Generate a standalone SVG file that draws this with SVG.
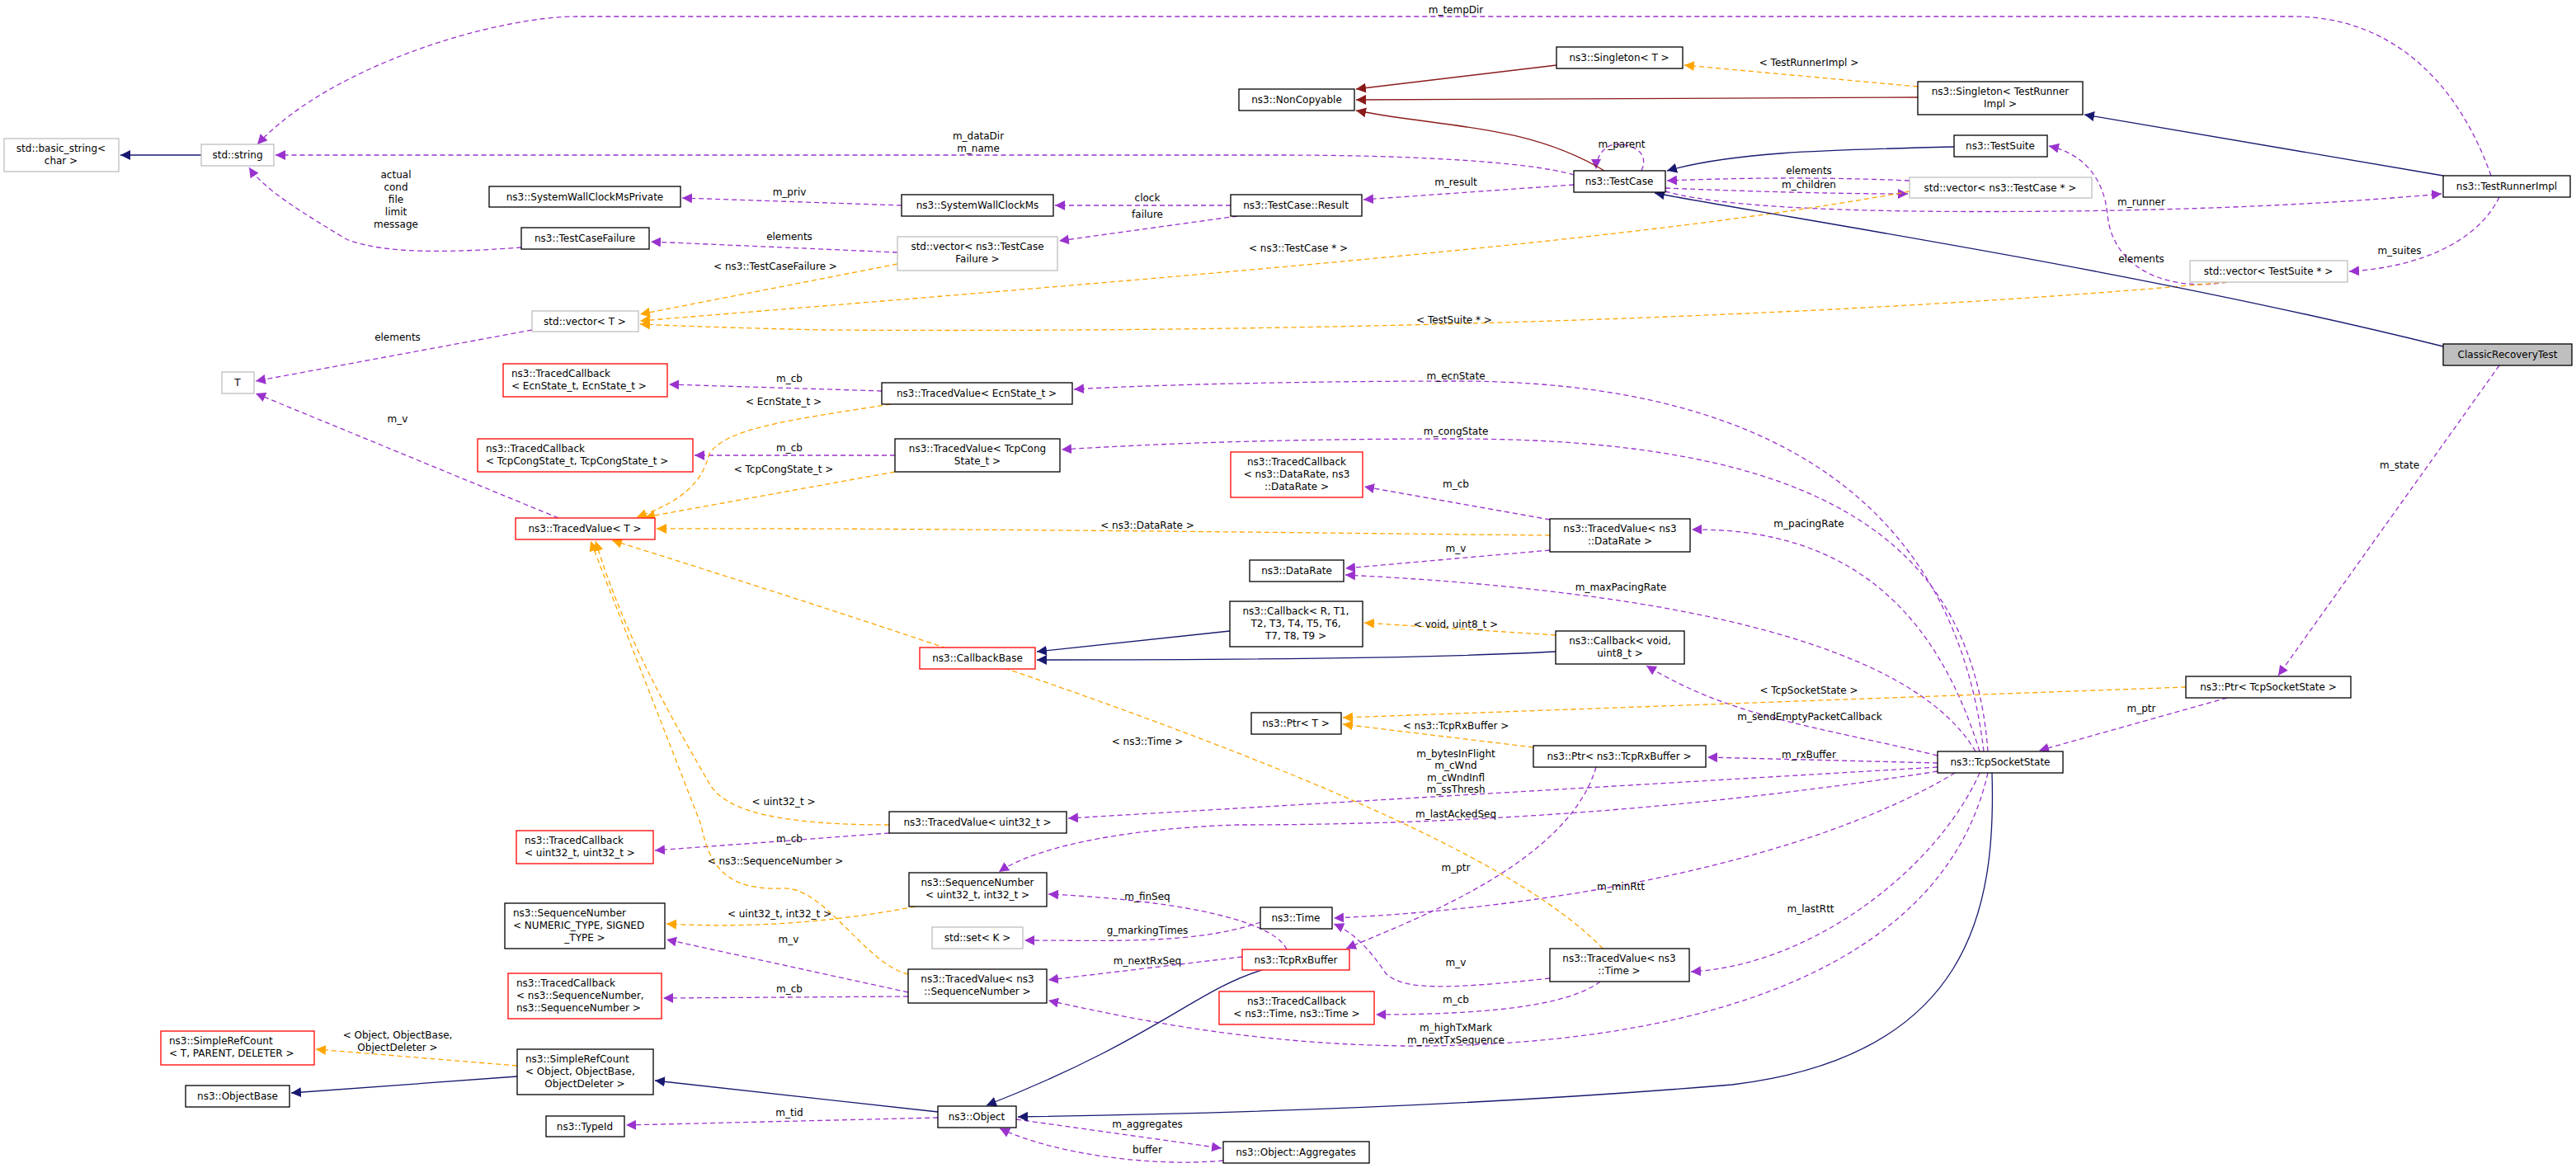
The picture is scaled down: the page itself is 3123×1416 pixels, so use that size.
<svg xmlns="http://www.w3.org/2000/svg" width="3123" height="1416" viewBox="0 0 3123 1416">
<style>
text{font-family:"DejaVu Sans","Liberation Sans",sans-serif;font-size:12px;fill:#000}
.n rect{fill:#fff;stroke:#000;stroke-width:1.3}
.g rect{fill:#fff;stroke:#bfbfbf;stroke-width:1.3}
.r rect{fill:#fff;stroke:#ff0000;stroke-width:1.3}
.c text{text-anchor:middle}
.l text{text-anchor:start}
.e path{fill:none;stroke-width:1.3}
.u{stroke:#9a32cd;stroke-dasharray:6,4;marker-end:url(#mu)}
.t{stroke:#ffa500;stroke-dasharray:6,4;marker-end:url(#mt)}
.i{stroke:#191970;marker-end:url(#mi)}
.p{stroke:#8b1a1a;marker-end:url(#mp)}
.lb text{text-anchor:middle}
</style>
<defs>
<marker id="mu" viewBox="0 0 10 10" refX="10" refY="5" markerWidth="12" markerHeight="12" markerUnits="userSpaceOnUse" orient="auto"><path d="M0,0L10,5L0,10z" fill="#9a32cd"/></marker>
<marker id="mt" viewBox="0 0 10 10" refX="10" refY="5" markerWidth="12" markerHeight="12" markerUnits="userSpaceOnUse" orient="auto"><path d="M0,0L10,5L0,10z" fill="#ffa500"/></marker>
<marker id="mi" viewBox="0 0 10 10" refX="10" refY="5" markerWidth="12" markerHeight="12" markerUnits="userSpaceOnUse" orient="auto"><path d="M0,0L10,5L0,10z" fill="#191970"/></marker>
<marker id="mp" viewBox="0 0 10 10" refX="10" refY="5" markerWidth="12" markerHeight="12" markerUnits="userSpaceOnUse" orient="auto"><path d="M0,0L10,5L0,10z" fill="#8b1a1a"/></marker>
</defs>
<rect width="3123" height="1416" fill="#fff"/>
<g id="edges" class="e">
<path class="u" d="M3020,213 C2980,100 2900,20 2780,20 L700,20 C600,20 400,80 312,175"/>
<path class="u" d="M1908,212 C1850,195 1700,188 1550,188 L334,188"/>
<path class="u" d="M632,300 C560,305 470,310 420,290 C370,260 320,230 302,203"/>
<path class="u" d="M1093,249 L827,240"/>
<path class="u" d="M1088,306 L789,293"/>
<path class="u" d="M645,400 L310,462"/>
<path class="u" d="M677,628 L310,477"/>
<path class="u" d="M1069,474 L811,466"/>
<path class="u" d="M1085,552 L842,552"/>
<path class="u" d="M1078,1010 L794,1031"/>
<path class="u" d="M1101,1203 L808,1139"/>
<path class="u" d="M1101,1208 L804,1210"/>
<path class="u" d="M1137,1355 L759,1364"/>
<path class="u" d="M1492,249 L1279,249"/>
<path class="u" d="M1500,262 L1284,292"/>
<path class="u" d="M1908,224 L1653,242"/>
<path class="u" d="M1990,207 C2000,185 1980,175 1960,175 C1945,175 1935,190 1935,205"/>
<path class="u" d="M2315,219 C2200,214 2100,216 2021,219"/>
<path class="u" d="M2019,228 C2120,232 2220,235 2313,235"/>
<path class="u" d="M2019,232 C2100,255 2300,258 2500,256 C2700,254 2850,245 2960,235"/>
<path class="u" d="M2700,342 C2620,355 2560,320 2555,260 C2550,210 2520,185 2484,177"/>
<path class="u" d="M3030,239 C3000,300 2920,325 2848,329"/>
<path class="u" d="M3030,443 L2762,819"/>
<path class="u" d="M2700,846 L2472,910"/>
<path class="u" d="M2405,911 C2380,700 2250,462 1765,462 C1600,462 1400,466 1302,472"/>
<path class="u" d="M2410,911 C2390,650 2200,532 1765,532 C1550,532 1400,538 1287,545"/>
<path class="u" d="M2400,911 C2350,750 2250,640 2051,642"/>
<path class="u" d="M2395,911 C2330,800 2100,720 1631,697"/>
<path class="u" d="M2349,916 C2200,880 2100,870 1996,807"/>
<path class="u" d="M2349,925 L2070,918"/>
<path class="u" d="M2349,930 L1295,992"/>
<path class="u" d="M2349,935 C2000,990 1700,1000 1500,1000 C1350,1005 1250,1030 1211,1057"/>
<path class="u" d="M2370,937 C2200,1040 1900,1100 1617,1113"/>
<path class="u" d="M2400,937 C2350,1050 2200,1170 2050,1178"/>
<path class="u" d="M2410,937 C2350,1200 2000,1270 1700,1268 C1500,1265 1350,1230 1271,1213"/>
<path class="u" d="M1935,930 C1900,1050 1700,1120 1632,1150"/>
<path class="u" d="M1560,1151 C1540,1110 1400,1090 1271,1084"/>
<path class="u" d="M1528,1118 C1450,1145 1350,1140 1242,1140"/>
<path class="u" d="M1506,1160 L1271,1188"/>
<path class="u" d="M1879,1186 C1750,1200 1700,1200 1680,1180 C1660,1150 1640,1130 1617,1120"/>
<path class="u" d="M1940,1190 C1900,1220 1800,1230 1668,1230"/>
<path class="u" d="M1879,630 L1654,590"/>
<path class="u" d="M1879,667 L1631,689"/>
<path class="u" d="M1232,1357 L1481,1392"/>
<path class="u" d="M1483,1407 C1400,1415 1280,1400 1212,1368"/>
<path class="t" d="M2325,105 L2042,79"/>
<path class="t" d="M1088,320 L776,381"/>
<path class="t" d="M2315,232 C2000,290 1500,330 776,389"/>
<path class="t" d="M2700,342 C2400,370 1800,405 1000,400 C900,398 820,395 776,393"/>
<path class="t" d="M1080,490 C950,510 880,520 860,550 C850,590 820,610 772,627"/>
<path class="t" d="M1085,572 L782,627"/>
<path class="t" d="M1879,649 C1500,645 1100,640 796,641"/>
<path class="t" d="M1943,1150 C1800,1000 1300,830 742,655"/>
<path class="t" d="M1078,1000 C950,1000 880,985 860,950 C820,880 760,780 722,656"/>
<path class="t" d="M1101,1181 C1050,1170 1000,1075 950,1077 C880,1080 860,1050 850,1000 L716,656"/>
<path class="t" d="M1110,1099 C1000,1120 900,1125 808,1120"/>
<path class="t" d="M1886,770 L1654,755"/>
<path class="t" d="M1859,906 L1628,878"/>
<path class="t" d="M2650,833 L1628,870"/>
<path class="t" d="M627,1292 L383,1272"/>
<path class="i" d="M244,188 L146,188"/>
<path class="i" d="M2962,213 L2527,139"/>
<path class="i" d="M2369,178 C2200,182 2100,185 2021,207"/>
<path class="i" d="M2962,420 C2600,330 2200,270 2006,234"/>
<path class="i" d="M1491,765 L1257,790"/>
<path class="i" d="M1886,790 C1700,800 1400,800 1257,800"/>
<path class="i" d="M627,1305 L353,1325"/>
<path class="i" d="M1137,1348 L794,1310"/>
<path class="i" d="M1530,1176 C1450,1200 1400,1260 1196,1340"/>
<path class="i" d="M2415,937 C2420,1100 2390,1280 2100,1315 C1800,1340 1500,1350 1234,1354"/>
<path class="p" d="M1887,79 L1644,108"/>
<path class="p" d="M2325,118 L1644,121"/>
<path class="p" d="M1945,207 C1850,150 1750,155 1644,134"/>
</g>
<g id="labels" class="lb">
<text x="1765" y="16">m_tempDir</text>
<text x="1186" y="169">m_dataDir</text><text x="1186" y="184">m_name</text>
<text x="480" y="216">actual</text><text x="480" y="231">cond</text><text x="480" y="246">file</text><text x="480" y="261">limit</text><text x="480" y="276">message</text>
<text x="957" y="237">m_priv</text>
<text x="957" y="291">elements</text>
<text x="940" y="327">&lt; ns3::TestCaseFailure &gt;</text>
<text x="482" y="413">elements</text>
<text x="957" y="463">m_cb</text>
<text x="482" y="512">m_v</text>
<text x="950" y="491">&lt; EcnState_t &gt;</text>
<text x="957" y="547">m_cb</text>
<text x="950" y="573">&lt; TcpCongState_t &gt;</text>
<text x="950" y="976">&lt; uint32_t &gt;</text>
<text x="957" y="1021">m_cb</text>
<text x="940" y="1048">&lt; ns3::SequenceNumber &gt;</text>
<text x="945" y="1112">&lt; uint32_t, int32_t &gt;</text>
<text x="956" y="1143">m_v</text>
<text x="957" y="1203">m_cb</text>
<text x="482" y="1259">&lt; Object, ObjectBase,</text><text x="482" y="1274">ObjectDeleter &gt;</text>
<text x="957" y="1353">m_tid</text>
<text x="1966" y="179">m_parent</text>
<text x="1765" y="225">m_result</text>
<text x="1391" y="244">clock</text>
<text x="1391" y="264">failure</text>
<text x="1574" y="305">&lt; ns3::TestCase * &gt;</text>
<text x="1763" y="392">&lt; TestSuite * &gt;</text>
<text x="1765" y="460">m_ecnState</text>
<text x="1765" y="527">m_congState</text>
<text x="1765" y="591">m_cb</text>
<text x="1391" y="641">&lt; ns3::DataRate &gt;</text>
<text x="1765" y="669">m_v</text>
<text x="1965" y="716">m_maxPacingRate</text>
<text x="1765" y="761">&lt; void, uint8_t &gt;</text>
<text x="1765" y="884">&lt; ns3::TcpRxBuffer &gt;</text>
<text x="1391" y="903">&lt; ns3::Time &gt;</text>
<text x="1765" y="918">m_bytesInFlight</text><text x="1765" y="932">m_cWnd</text><text x="1765" y="947">m_cWndInfl</text><text x="1765" y="961">m_ssThresh</text>
<text x="1765" y="991">m_lastAckedSeq</text>
<text x="1391" y="1091">m_finSeq</text>
<text x="1765" y="1056">m_ptr</text>
<text x="1965" y="1079">m_minRtt</text>
<text x="1391" y="1132">g_markingTimes</text>
<text x="1391" y="1169">m_nextRxSeq</text>
<text x="1765" y="1171">m_v</text>
<text x="1765" y="1216">m_cb</text>
<text x="2195" y="1106">m_lastRtt</text>
<text x="1765" y="1250">m_highTxMark</text><text x="1765" y="1265">m_nextTxSequence</text>
<text x="1391" y="1367">m_aggregates</text>
<text x="1391" y="1398">buffer</text>
<text x="2193" y="80">&lt; TestRunnerImpl &gt;</text>
<text x="2193" y="211">elements</text>
<text x="2193" y="228">m_children</text>
<text x="2596" y="249">m_runner</text>
<text x="2596" y="318">elements</text>
<text x="2909" y="308">m_suites</text>
<text x="2909" y="568">m_state</text>
<text x="2193" y="639">m_pacingRate</text>
<text x="2193" y="841">&lt; TcpSocketState &gt;</text>
<text x="2194" y="873">m_sendEmptyPacketCallback</text>
<text x="2596" y="863">m_ptr</text>
<text x="2193" y="919">m_rxBuffer</text>
</g>
<g id="basic_string" class="g c"><rect x="5" y="168" width="139" height="40"/><text x="74" y="184">std::basic_string&lt;</text><text x="74" y="199">char &gt;</text></g>
<g id="std_string" class="g c"><rect x="244" y="175" width="88" height="26"/><text x="288" y="192">std::string</text></g>
<g id="SystemWallClockMsPrivate" class="n c"><rect x="593" y="226" width="232" height="25"/><text x="709" y="243">ns3::SystemWallClockMsPrivate</text></g>
<g id="TestCaseFailure" class="n c"><rect x="632" y="276" width="155" height="26"/><text x="709" y="293">ns3::TestCaseFailure</text></g>
<g id="vector_T" class="g c"><rect x="645" y="377" width="129" height="25"/><text x="709" y="394">std::vector&lt; T &gt;</text></g>
<g id="T" class="g c"><rect x="269" y="451" width="39" height="26"/><text x="288" y="468">T</text></g>
<g id="TC_Ecn" class="r l"><rect x="610" y="441" width="199" height="40"/><text x="620" y="457">ns3::TracedCallback</text><text x="620" y="472">&lt; EcnState_t, EcnState_t &gt;</text></g>
<g id="TC_Cong" class="r l"><rect x="579" y="532" width="261" height="40"/><text x="589" y="548">ns3::TracedCallback</text><text x="589" y="563">&lt; TcpCongState_t, TcpCongState_t &gt;</text></g>
<g id="TracedValue_T" class="r c"><rect x="625" y="628" width="169" height="26"/><text x="709" y="645">ns3::TracedValue&lt; T &gt;</text></g>
<g id="TC_u32" class="r l"><rect x="626" y="1007" width="166" height="40"/><text x="636" y="1023">ns3::TracedCallback</text><text x="636" y="1038">&lt; uint32_t, uint32_t &gt;</text></g>
<g id="SeqNum_T" class="n l"><rect x="612" y="1095" width="194" height="55"/><text x="622" y="1111">ns3::SequenceNumber</text><text x="622" y="1126">&lt; NUMERIC_TYPE, SIGNED</text><text x="709" y="1141" style="text-anchor:middle">_TYPE &gt;</text></g>
<g id="TC_Seq" class="r l"><rect x="616" y="1180" width="186" height="55"/><text x="626" y="1196">ns3::TracedCallback</text><text x="626" y="1211">&lt; ns3::SequenceNumber,</text><text x="626" y="1226">ns3::SequenceNumber &gt;</text></g>
<g id="SRC_T" class="r l"><rect x="195" y="1250" width="186" height="41"/><text x="205" y="1266">ns3::SimpleRefCount</text><text x="205" y="1281">&lt; T, PARENT, DELETER &gt;</text></g>
<g id="SRC_Object" class="n l"><rect x="627" y="1272" width="165" height="55"/><text x="637" y="1288">ns3::SimpleRefCount</text><text x="637" y="1303">&lt; Object, ObjectBase,</text><text x="709" y="1318" style="text-anchor:middle">ObjectDeleter &gt;</text></g>
<g id="ObjectBase" class="n c"><rect x="225" y="1316" width="126" height="26"/><text x="288" y="1333">ns3::ObjectBase</text></g>
<g id="TypeId" class="n c"><rect x="662" y="1353" width="95" height="25"/><text x="709" y="1370">ns3::TypeId</text></g>
<g id="Singleton_T" class="n c"><rect x="1887" y="57" width="153" height="26"/><text x="1963" y="74">ns3::Singleton&lt; T &gt;</text></g>
<g id="NonCopyable" class="n c"><rect x="1502" y="108" width="140" height="26"/><text x="1572" y="125">ns3::NonCopyable</text></g>
<g id="TestCase" class="n c"><rect x="1908" y="207" width="111" height="26"/><text x="1963" y="224">ns3::TestCase</text></g>
<g id="SystemWallClockMs" class="n c"><rect x="1093" y="236" width="184" height="26"/><text x="1185" y="253">ns3::SystemWallClockMs</text></g>
<g id="TestCaseResult" class="n c"><rect x="1492" y="236" width="159" height="26"/><text x="1571" y="253">ns3::TestCase::Result</text></g>
<g id="vector_TCF" class="g c"><rect x="1088" y="287" width="194" height="41"/><text x="1185" y="303">std::vector&lt; ns3::TestCase</text><text x="1185" y="318">Failure &gt;</text></g>
<g id="TV_Ecn" class="n c"><rect x="1069" y="464" width="231" height="26"/><text x="1184" y="481">ns3::TracedValue&lt; EcnState_t &gt;</text></g>
<g id="TV_Cong" class="n c"><rect x="1085" y="532" width="200" height="40"/><text x="1185" y="548">ns3::TracedValue&lt; TcpCong</text><text x="1185" y="563">State_t &gt;</text></g>
<g id="TC_DataRate" class="r c"><rect x="1492" y="548" width="160" height="55"/><text x="1572" y="564">ns3::TracedCallback</text><text x="1572" y="579">&lt; ns3::DataRate, ns3</text><text x="1572" y="594">::DataRate &gt;</text></g>
<g id="TV_DataRate" class="n c"><rect x="1879" y="629" width="170" height="40"/><text x="1964" y="645">ns3::TracedValue&lt; ns3</text><text x="1964" y="660">::DataRate &gt;</text></g>
<g id="DataRate" class="n c"><rect x="1515" y="679" width="114" height="26"/><text x="1572" y="696">ns3::DataRate</text></g>
<g id="Callback_R" class="n c"><rect x="1491" y="729" width="161" height="55"/><text x="1571" y="745">ns3::Callback&lt; R, T1,</text><text x="1571" y="760">T2, T3, T4, T5, T6,</text><text x="1571" y="775">T7, T8, T9 &gt;</text></g>
<g id="Callback_void" class="n c"><rect x="1886" y="765" width="156" height="40"/><text x="1964" y="781">ns3::Callback&lt; void,</text><text x="1964" y="796">uint8_t &gt;</text></g>
<g id="CallbackBase" class="r c"><rect x="1115" y="785" width="140" height="26"/><text x="1185" y="802">ns3::CallbackBase</text></g>
<g id="Ptr_T" class="n c"><rect x="1517" y="864" width="109" height="26"/><text x="1571" y="881">ns3::Ptr&lt; T &gt;</text></g>
<g id="Ptr_RxBuf" class="n c"><rect x="1859" y="904" width="209" height="26"/><text x="1963" y="921">ns3::Ptr&lt; ns3::TcpRxBuffer &gt;</text></g>
<g id="TV_u32" class="n c"><rect x="1078" y="984" width="215" height="26"/><text x="1185" y="1001">ns3::TracedValue&lt; uint32_t &gt;</text></g>
<g id="SeqNum_u32" class="n c"><rect x="1102" y="1058" width="167" height="41"/><text x="1185" y="1074">ns3::SequenceNumber</text><text x="1185" y="1089">&lt; uint32_t, int32_t &gt;</text></g>
<g id="Time" class="n c"><rect x="1528" y="1100" width="87" height="26"/><text x="1571" y="1117">ns3::Time</text></g>
<g id="set_K" class="g c"><rect x="1130" y="1124" width="110" height="26"/><text x="1185" y="1141">std::set&lt; K &gt;</text></g>
<g id="TcpRxBuffer" class="r c"><rect x="1506" y="1151" width="130" height="25"/><text x="1571" y="1168">ns3::TcpRxBuffer</text></g>
<g id="TV_Seq" class="n c"><rect x="1101" y="1175" width="168" height="41"/><text x="1185" y="1191">ns3::TracedValue&lt; ns3</text><text x="1185" y="1206">::SequenceNumber &gt;</text></g>
<g id="TV_Time" class="n c"><rect x="1879" y="1150" width="169" height="40"/><text x="1963" y="1166">ns3::TracedValue&lt; ns3</text><text x="1963" y="1181">::Time &gt;</text></g>
<g id="TC_Time" class="r c"><rect x="1478" y="1202" width="188" height="40"/><text x="1572" y="1218">ns3::TracedCallback</text><text x="1572" y="1233">&lt; ns3::Time, ns3::Time &gt;</text></g>
<g id="Object" class="n c"><rect x="1137" y="1341" width="95" height="26"/><text x="1184" y="1358">ns3::Object</text></g>
<g id="Aggregates" class="n c"><rect x="1483" y="1384" width="177" height="26"/><text x="1571" y="1401">ns3::Object::Aggregates</text></g>
<g id="Singleton_TRI" class="n c"><rect x="2325" y="99" width="200" height="40"/><text x="2425" y="115">ns3::Singleton&lt; TestRunner</text><text x="2425" y="130">Impl &gt;</text></g>
<g id="TestSuite" class="n c"><rect x="2369" y="164" width="113" height="26"/><text x="2425" y="181">ns3::TestSuite</text></g>
<g id="vector_TC" class="g c"><rect x="2315" y="215" width="221" height="25"/><text x="2425" y="232">std::vector&lt; ns3::TestCase * &gt;</text></g>
<g id="TestRunnerImpl" class="n c"><rect x="2962" y="213" width="154" height="26"/><text x="3039" y="230">ns3::TestRunnerImpl</text></g>
<g id="vector_TS" class="g c"><rect x="2655" y="316" width="191" height="26"/><text x="2750" y="333">std::vector&lt; TestSuite * &gt;</text></g>
<g id="ClassicRecoveryTest" class="n c"><rect x="2962" y="417" width="156" height="26" style="fill:#bfbfbf"/><text x="3040" y="434">ClassicRecoveryTest</text></g>
<g id="Ptr_TSS" class="n c"><rect x="2650" y="820" width="200" height="26"/><text x="2750" y="837">ns3::Ptr&lt; TcpSocketState &gt;</text></g>
<g id="TcpSocketState" class="n c"><rect x="2349" y="911" width="152" height="26"/><text x="2425" y="928">ns3::TcpSocketState</text></g>
</svg>
